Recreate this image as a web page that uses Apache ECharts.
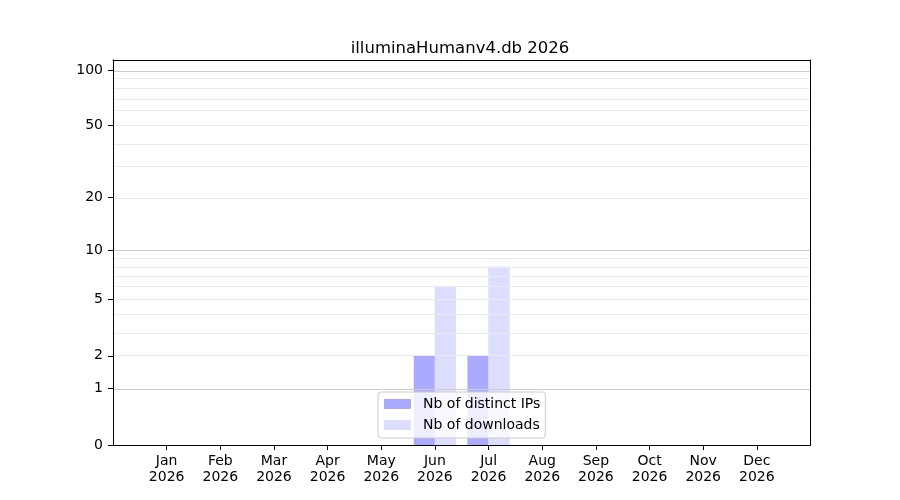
<!DOCTYPE html>
<html>
<head>
<meta charset="utf-8">
<script src="https://cdn.jsdelivr.net/npm/echarts@6/dist/echarts.min.js"></script>
<style>html,body{margin:0;padding:0;background:#fff}#c{width:900px;height:500px}</style>
</head>
<body>
<div id="c"></div>
<script>
const titleText = 'illuminaHumanv4.db 2026';
const months = ['Jan','Feb','Mar','Apr','May','Jun','Jul','Aug','Sep','Oct','Nov','Dec'];
const year = '2026';
const distinctIPs = [0,0,0,0,0,2,2,0,0,0,0,0];
const downloads = [0,0,0,0,0,6,8,0,0,0,0,0];
const yTickValues = [0,1,2,5,10,20,50,100];
const majorGridValues = [1,10,100];
const minorGridValues = [2,3,4,5,6,7,8,9,20,30,40,50,60,70,80,90];
const yMaxValue = 113.5;

const tf = v => Math.log10(1 + v);
const inv = t => Math.round(Math.pow(10, t) - 1);

const cats = [''].concat(months.map(m => m + '\n' + year)).concat(['']);
const pad = arr => [null].concat(arr.map(tf)).concat([null]);
const FONT = 'DejaVu Sans';
const frameLine = {show: true, onZero: false, lineStyle: {color: '#000', width: 1}};

const chart = echarts.init(document.getElementById('c'), null, {renderer: 'canvas'});
chart.setOption({
  animation: false,
  backgroundColor: '#fff',
  title: {
    text: titleText, left: 455, top: 35, textAlign: 'center',
    textStyle: {fontFamily: FONT, fontSize: 16.5, fontWeight: 'normal', color: '#000'}
  },
  grid: {left: 113, right: 89.5, top: 60, bottom: 55, show: false, containLabel: false},
  legend: {
    orient: 'vertical', left: 378, top: 392,
    data: ['Nb of distinct IPs', 'Nb of downloads'],
    icon: 'rect', itemWidth: 27, itemHeight: 10, itemGap: 5,
    padding: [4, 5, 5, 6],
    backgroundColor: 'rgba(255,255,255,0.8)', borderColor: '#cccccc', borderWidth: 1, borderRadius: 3,
    textStyle: {fontFamily: FONT, fontSize: 14, color: '#000', lineHeight: 16, padding: [0, 0, 0, 7]}
  },
  xAxis: [{
    type: 'category', data: cats, boundaryGap: false, position: 'bottom', z: 10,
    axisLine: frameLine,
    axisTick: {show: true, length: 5, lineStyle: {color: '#000'}, interval: (i) => i > 0 && i < cats.length - 1},
    axisLabel: {fontFamily: FONT, fontSize: 14, color: '#000', lineHeight: 16, margin: 8, interval: 0},
    splitLine: {show: false}
  }, {
    type: 'category', data: cats, boundaryGap: false, position: 'top', z: 10,
    axisLine: frameLine, axisTick: {show: false}, axisLabel: {show: false}, splitLine: {show: false}
  }],
  yAxis: [{
    type: 'value', min: 0, max: tf(yMaxValue), position: 'left', z: 10,
    axisLine: frameLine,
    axisTick: {show: true, length: 5, lineStyle: {color: '#000'}, customValues: yTickValues.map(tf)},
    axisLabel: {fontFamily: FONT, fontSize: 14, color: '#000', margin: 10, customValues: yTickValues.map(tf), formatter: v => String(inv(v))},
    splitLine: {show: false}
  }, {
    type: 'value', min: 0, max: tf(yMaxValue), position: 'right', z: 10,
    axisLine: frameLine, axisTick: {show: false}, axisLabel: {show: false}, splitLine: {show: false}
  }],
  series: [
    {
      type: 'line', data: cats.map(() => null), z: 1, silent: true, symbol: 'none',
      markLine: {
        silent: true, symbol: ['none', 'none'], label: {show: false}, animation: false,
        data: minorGridValues.map(v => ({yAxis: tf(v), lineStyle: {color: '#ebebeb', width: 1, type: 'solid'}}))
          .concat(majorGridValues.map(v => ({yAxis: tf(v), lineStyle: {color: '#cccccc', width: 1, type: 'solid'}})))
      }
    },
    {name: 'Nb of distinct IPs', type: 'bar', data: pad(distinctIPs), barWidth: '40%', barGap: '-3%', z: 3, itemStyle: {color: '#aaaaff'}},
    {name: 'Nb of downloads', type: 'bar', data: pad(downloads), barWidth: '40%', barGap: '-3%', z: 3, itemStyle: {color: '#ddddff'}}
  ]
});
</script>
</body>
</html>
